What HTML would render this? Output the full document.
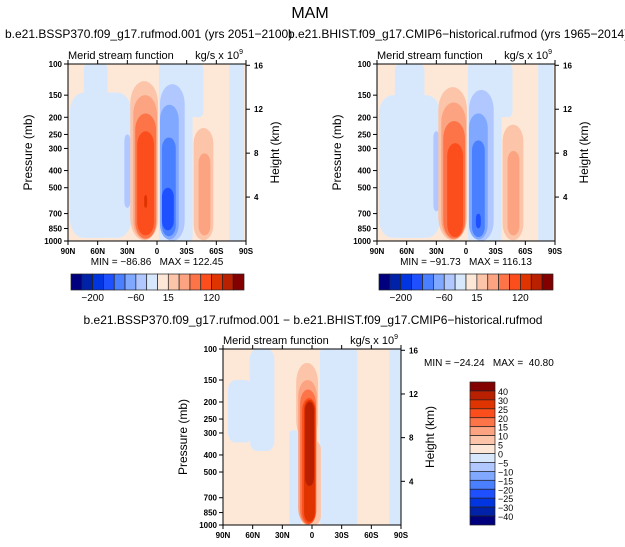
<!DOCTYPE html>
<html><head><meta charset="utf-8">
<style>
html,body{margin:0;padding:0;background:#fff;}
svg{display:block;font-family:"Liberation Sans",sans-serif;}
text{white-space:pre;}
</style></head>
<body>
<svg id="fig" width="625" height="547" viewBox="0 0 625 547" xmlns="http://www.w3.org/2000/svg">
<text x="310" y="18" font-size="16" text-anchor="middle">MAM</text>
</svg>
<script>
const NS="http://www.w3.org/2000/svg";
const svg=document.getElementById('fig');
const colors=["#00007f","#0022a8","#0035e0","#1e50ff","#4a80ff","#80a8ff","#b0c8ff","#d8e8fc","#fde8d8","#fcc4a8","#fca482","#fc7448","#fc4e1c","#e03400","#b82000","#820000"];
const latTicks=[90,60,30,0,-30,-60,-90];
const latLabels=["90N","60N","30N","0","30S","60S","90S"];
const presTicks=[100,150,200,250,300,400,500,700,850,1000];
const hgtTicks=[16,12,8,4];
// blobs: [latLeft, latRight, pTop, pBottom, colourIndex, roundness]
const blobs1=[[74,50,100,960,7,0.2],[88,26,145,960,7,0.3],[33,27,250,650,6,1],
 [-2,-36,100,1000,7,0.1],[-28,-47,100,200,7,0.3],[-73,-88,100,1000,7,0.1],
 [27,-1,125,990,9,0.8],[24,0,150,980,10,0.8],[22,1,190,970,11,0.8],[20,3,240,930,12,0.8],[13,10,550,650,13,1],
 [-3,-28,130,1000,6,0.8],[-3,-22,170,980,5,0.8],[-5,-19,260,940,4,0.8],[-5,-17,500,870,3,0.8],
 [-37,-57,230,990,9,0.8],[-42,-54,320,930,10,0.8]];
const blobs2=[[72,42,100,960,7,0.2],[88,26,150,960,7,0.3],[33,27,240,680,6,1],
 [-2,-36,100,1000,7,0.1],[-28,-47,100,200,7,0.3],[-73,-88,100,1000,7,0.1],
 [28,-1,135,990,9,0.8],[25,0,165,980,10,0.8],[23,1,210,970,11,0.8],[19,3,280,950,12,0.8],
 [-3,-28,140,1000,6,0.8],[-3,-22,190,980,5,0.8],[-6,-19,270,950,4,0.8],[-10,-15,700,850,3,1],
 [-37,-58,220,990,9,0.8],[-42,-54,310,930,10,0.8]];
const blobs3=[[63,38,100,380,7,0.4],[85,60,150,340,7,0.4],[23,11,290,1000,7,0.3],[-8,-46,100,1000,7,0.1],[-78,-90,100,1000,7,0.1],
 [16,-6,120,330,9,0.9],[10,-9,330,1000,9,0.5],[14,-5,150,995,10,0.9],[12,-4,170,990,11,0.9],[10,-4,190,985,12,0.9],[8,-3,195,960,13,0.9],[7,-2,200,600,14,0.9]];
const cb1Labels=[["-200",2],["-60",6],["15",9],["120",13]];
const cb3Labels=["40","30","25","20","15","10","5","0","-5","-10","-15","-20","-25","-30","-40"];

function el(tag,attrs,parent){const e=document.createElementNS(NS,tag);for(const k in attrs)e.setAttribute(k,attrs[k]);(parent||svg).appendChild(e);return e;}
function txt(x,y,s,size,anchor,parent){const t=el('text',{x:x,y:y,'font-size':size,'text-anchor':anchor||'start'},parent);t.textContent=s;return t;}

function panel(id,x0,y0,w,h,blobs,minmax){
  const g=el('g',{});
  
  
  const X=lat=>x0+(90-lat)/180*w;
  const Y=p=>y0+(Math.log10(p)-2)*h;
  const cp=el('clipPath',{id:id+'-clip'},g);
  el('rect',{x:x0,y:y0,width:w,height:h},cp);
  const pg=el('g',{'clip-path':'url(#'+id+'-clip)'},g);
  const bg=el('rect',{x:x0,y:y0,width:w,height:h,fill:colors[8]},pg);
  
  
  blobs.forEach(b=>{
    const xl=X(b[0]),xr=X(b[1]),yt=Y(b[2]),yb=Y(b[3]);
    const bw=xr-xl,bh=yb-yt;
    const r=el('rect',{x:xl,y:yt,width:bw,height:bh,rx:bw/2*Math.min(1,b[5]*1.5),ry:Math.min(bh/2,bw*b[5]),fill:colors[b[4]]},pg);
    
    
  });
  el('rect',{x:x0,y:y0,width:w,height:h,fill:'none',stroke:'#000','stroke-width':1},g);
  latTicks.forEach((l,i)=>{
    const x=X(l);
    el('line',{x1:x,y1:y0+h,x2:x,y2:y0+h+4,stroke:'#000'},g);
    el('line',{x1:x,y1:y0,x2:x,y2:y0-4,stroke:'#000'},g);
    const t=txt(x,y0+h+13,latLabels[i],8,'middle',g);
    t.setAttribute('font-weight','bold');
    
    
  });
  presTicks.forEach(p=>{
    const y=Y(p);
    el('line',{x1:x0,y1:y,x2:x0-4,y2:y,stroke:'#000'},g);
    const t=txt(x0-6,y+3,String(p),8,'end',g);
    t.setAttribute('font-weight','bold');
    
    
  });
  hgtTicks.forEach(k=>{
    const p=1000*Math.exp(-k/7);
    const y=Y(p);
    el('line',{x1:x0+w,y1:y,x2:x0+w+4,y2:y,stroke:'#000'},g);
    const t=txt(x0+w+8,y+3,String(k),8,'start',g);
    t.setAttribute('font-weight','bold');
    
    
  });
  const yt=txt(0,0,'Pressure (mb)',12,'middle',g);
  yt.setAttribute('transform','translate('+(x0-36)+','+(y0+h/2)+') rotate(-90)');
  
  
  const ht=txt(0,0,'Height (km)',12,'middle',g);
  ht.setAttribute('transform','translate('+(x0+w+33)+','+(y0+h/2)+') rotate(-90)');
  
  
  const lt=txt(x0,y0-5,'Merid stream function',11,'start',g);
  
  
  const rt=el('text',{x:x0+w-3,y:y0-5,'font-size':11,'text-anchor':'end'},g);
  rt.innerHTML='kg/s x 10<tspan dy="-5" font-size="7">9</tspan>';
  
  
  if(minmax){
    const m=txt(x0+w/2,y0+h+24,minmax,10,'middle',g);
    
    
  }
}
function hbar(id,x0,y0,w,h){
  const g=el('g',{});
  
  
  const bw=w/16;
  colors.forEach((c,i)=>{
    const r=el('rect',{x:x0+i*bw,y:y0,width:bw,height:h,fill:c,stroke:'#222','stroke-width':0.7},g);
    
    
  });
  cb1Labels.forEach(l=>{
    const t=txt(x0+l[1]*bw,y0+h+11,l[0].replace('-','\u2212'),10,'middle',g);
    
    
  });
}
function vbar(id,x0,y0,w,h){
  const g=el('g',{});
  
  
  const bh=h/16;
  colors.slice().reverse().forEach((c,i)=>{
    const r=el('rect',{x:x0,y:y0+i*bh,width:w,height:bh,fill:c,stroke:'#222','stroke-width':0.7},g);
    
    
  });
  cb3Labels.forEach((s,i)=>{
    const t=txt(x0+w+3,y0+(i+1)*bh+4,s.replace('-','\u2212'),9,'start',g);
    
    
  });
}
const s1=txt(5,38,'b.e21.BSSP370.f09_g17.rufmod.001 (yrs 2051\u22122100)',12,'start');


const s2=txt(288,38,'b.e21.BHIST.f09_g17.CMIP6\u2212historical.rufmod (yrs 1965\u22122014)',12,'start');


const s3=txt(313,324,'b.e21.BSSP370.f09_g17.rufmod.001 \u2212 b.e21.BHIST.f09_g17.CMIP6\u2212historical.rufmod',12,'middle');


panel('panel-future',68,64,178,177,blobs1,'MIN = \u221286.86   MAX = 122.45');
panel('panel-historical',377,64,178,177,blobs2,'MIN = \u221291.73   MAX = 116.13');
panel('panel-difference',223,349,178,176,blobs3,null);
hbar('colorbar-future',71,274,173,16);
hbar('colorbar-historical',379,274,174,16);
vbar('colorbar-difference',470,382,25,143);
const mm=txt(424,366,'MIN = \u221224.24   MAX =  40.80',10,'start');


</script>
</body></html>
